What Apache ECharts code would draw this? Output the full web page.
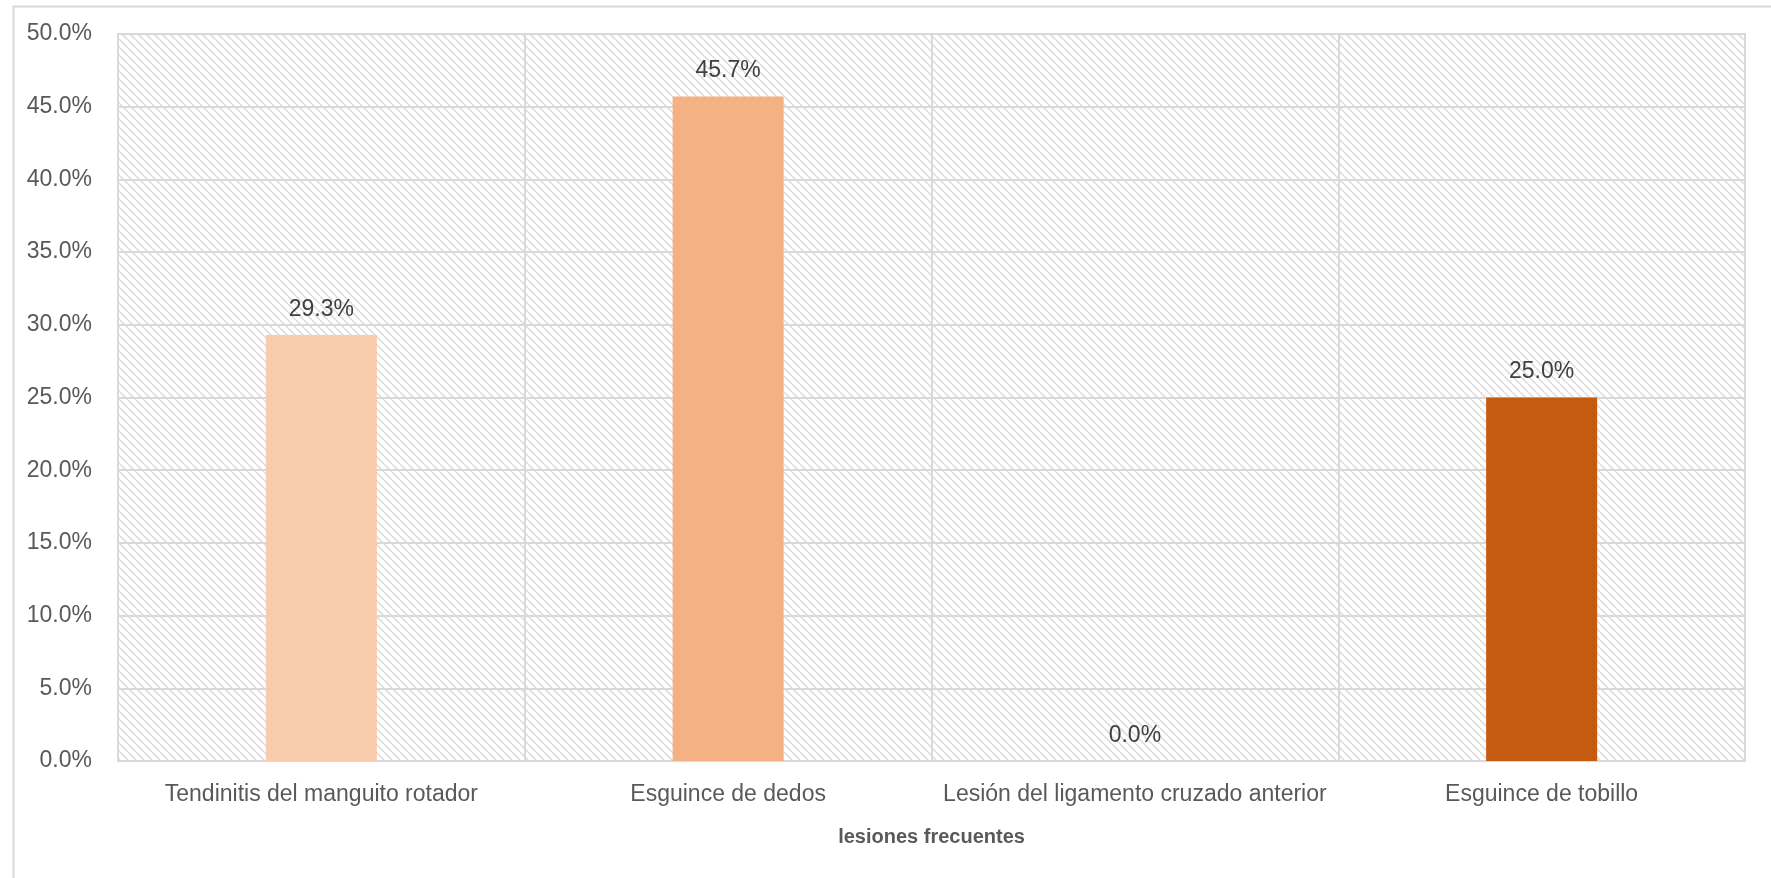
<!DOCTYPE html>
<html>
<head>
<meta charset="utf-8">
<script src="https://cdn.jsdelivr.net/npm/echarts@6/dist/echarts.min.js"></script>
<style>
html,body{margin:0;padding:0;background:#fff;}
#chart{width:1771px;height:878px;}
</style>
</head>
<body>
<div id="chart"></div>
<script>
var categories = ['Tendinitis del manguito rotador', 'Esguince de dedos', 'Lesión del ligamento cruzado anterior', 'Esguince de tobillo'];
var values = [29.3, 45.7, 0.0, 25.0];
var barColors = ['#F8CBAD', '#F4B183', '#ED7D31', '#C55A11'];
var axisTitle = 'lesiones frecuentes';

var FONT = "'Liberation Sans', Arial, sans-serif";

function makeHatch() {
  var c = document.createElement('canvas');
  c.width = 8; c.height = 8;
  var ctx = c.getContext('2d');
  ctx.fillStyle = '#ffffff';
  ctx.fillRect(0, 0, 8, 8);
  ctx.strokeStyle = '#dedede';
  ctx.lineWidth = 1.6;
  ctx.beginPath();
  [-8, 0, 8].forEach(function (o) {
    ctx.moveTo(o, 0);
    ctx.lineTo(o + 8, 8);
  });
  ctx.stroke();
  return c;
}

var chart = echarts.init(document.getElementById('chart'));
chart.setOption({
  animation: false,
  backgroundColor: '#ffffff',
  textStyle: { fontFamily: FONT },
  graphic: [{
    type: 'rect',
    left: 11, top: 4,
    shape: { width: 1800, height: 900 },
    style: { fill: 'none', stroke: '#d9d9d9', lineWidth: 2 },
    z: -10
  }],
  grid: {
    left: 118, right: 26, top: 34, bottom: 117,
    show: true,
    backgroundColor: { image: makeHatch(), repeat: 'repeat' },
    borderColor: '#d9d9d9',
    borderWidth: 2
  },
  xAxis: {
    type: 'category',
    data: categories,
    name: axisTitle,
    nameLocation: 'middle',
    nameGap: 66,
    nameTextStyle: { fontFamily: FONT, fontSize: 20, fontWeight: 'bold', color: '#595959' },
    axisLine: { show: true, lineStyle: { color: '#d9d9d9', width: 2 } },
    axisTick: { show: false },
    axisLabel: { interval: 0, fontFamily: FONT, fontSize: 23, color: '#595959', margin: 22 },
    splitLine: { show: true, interval: 0, lineStyle: { color: '#d9d9d9', width: 2 } }
  },
  yAxis: {
    type: 'value',
    min: 0, max: 50, interval: 5,
    axisLine: { show: false },
    axisTick: { show: false },
    axisLabel: {
      fontFamily: FONT, fontSize: 23, color: '#595959', margin: 26,
      formatter: function (v) { return v.toFixed(1) + '%'; }
    },
    splitLine: { show: true, lineStyle: { color: '#d9d9d9', width: 2 } }
  },
  series: [{
    type: 'bar',
    barWidth: 111,
    data: values.map(function (v, i) {
      return { value: v, itemStyle: { color: barColors[i] } };
    }),
    label: {
      show: true,
      position: 'top',
      distance: 14,
      fontFamily: FONT,
      fontSize: 23,
      color: '#404040',
      formatter: function (p) { return p.value.toFixed(1) + '%'; }
    }
  }]
});
</script>
</body>
</html>
